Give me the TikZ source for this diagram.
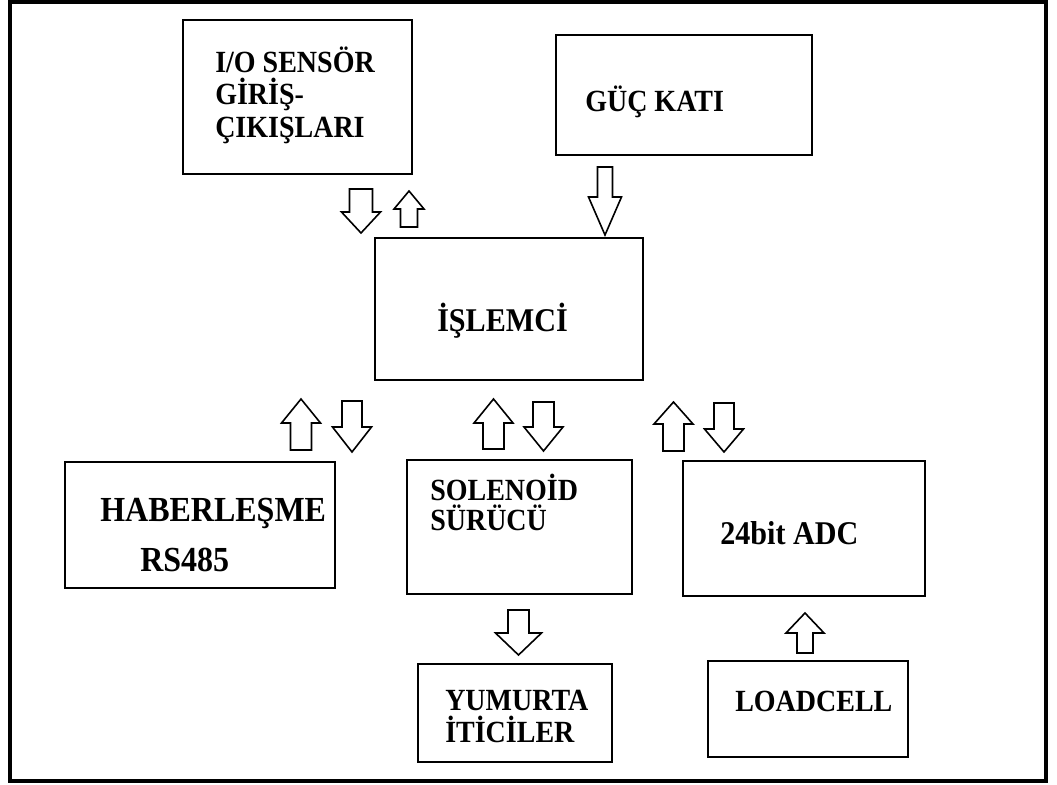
\documentclass[tikz,border=0pt]{standalone}
\usepackage{fontspec}
\setmainfont{Liberation Serif}
\usetikzlibrary{fit}
\newcommand{\tallt}[1]{\scalebox{1}[1.1]{#1}}
\tikzset{
  box/.style={draw=black, line width=1.6pt, inner sep=0pt},
  lbl/.style={anchor=base west, inner sep=0pt, font=\fontsize{21}{24}\selectfont\bfseries},
  lblbig/.style={lbl, font=\fontsize{24}{28}\selectfont\bfseries},
  lblmid/.style={lbl, font=\fontsize{22.6}{26}\selectfont\bfseries},
  arr/.style={draw=black, line width=1.2pt, fill=white, line join=miter},
  frame/.style={draw=black, line width=3pt}
}
\newcommand{\blockarr}[6]{%
  \draw[arr] (#1-#5,#2) -- (#1+#5,#2) -- (#1+#5,#3) -- (#1+#6,#3) -- (#1,#4) -- (#1-#6,#3) -- (#1-#5,#3) -- cycle;}
\begin{document}
\begin{tikzpicture}[x=0.75pt,y=-0.75pt]
\useasboundingbox (0,0) rectangle (1057,785);
\draw[frame] (10,2) rectangle (1046,781);

% boxes
\node[box, fit={(183,20) (412,174)}] (io) {};
\node[box, fit={(556,35) (812,155)}] (guc) {};
\node[box, fit={(375,238) (643,380)}] (cpu) {};
\node[box, fit={(65,462) (335,588)}] (hab) {};
\node[box, fit={(407,460) (632,594)}] (sol) {};
\node[box, fit={(683,461) (925,596)}] (adc) {};
\node[box, fit={(418,664) (612,762)}] (yum) {};
\node[box, fit={(708,661) (908,757)}] (load) {};

% labels
\node[lbl] (io1) at (215,72) {\tallt{I/O SENSÖR}};
\node[lbl] (io2) at (215,104) {\tallt{GİRİŞ-}};
\node[lbl] (io3) at (215,137) {\tallt{ÇIKIŞLARI}};
\node[lbl] (guct) at (585,111) {\tallt{GÜÇ KATI}};
\node[lblmid] (cput) at (437,331) {\tallt{İŞLEMCİ}};
\node[lblbig] (hab1) at (100,521) {\tallt{HABERLEŞME}};
\node[lblbig] (hab2) at (140,571) {\tallt{RS485}};
\node[lbl] (sol1) at (430,500) {\tallt{SOLENOİD}};
\node[lbl] (sol2) at (430,530) {\tallt{SÜRÜCÜ}};
\node[lblmid] (adct) at (720,544) {\tallt{24bit ADC}};
\node[lbl] (yum1) at (445,710) {\tallt{YUMURTA}};
\node[lbl] (yum2) at (445,742) {\tallt{İTİCİLER}};
\node[lbl] (loadt) at (735,711) {\tallt{LOADCELL}};

% block arrows
\blockarr{361}{189}{212}{233}{11.5}{19.5}
\blockarr{409}{227}{209}{191}{8.5}{15}
\blockarr{605}{167}{197}{235}{7.5}{16.5}
\blockarr{301}{450}{423}{399}{10.5}{19.5}
\blockarr{352}{401}{427}{452}{10}{19.5}
\blockarr{493.5}{449}{423}{399}{10.5}{19.5}
\blockarr{543.5}{402}{427}{451}{10.5}{19.5}
\blockarr{673.5}{451}{424}{402}{10.5}{19.5}
\blockarr{724}{403}{429}{452}{10}{19.5}
\blockarr{518.5}{610}{633}{655}{10.5}{23}
\blockarr{805}{653}{633}{613}{8}{19}
\end{tikzpicture}
\end{document}
